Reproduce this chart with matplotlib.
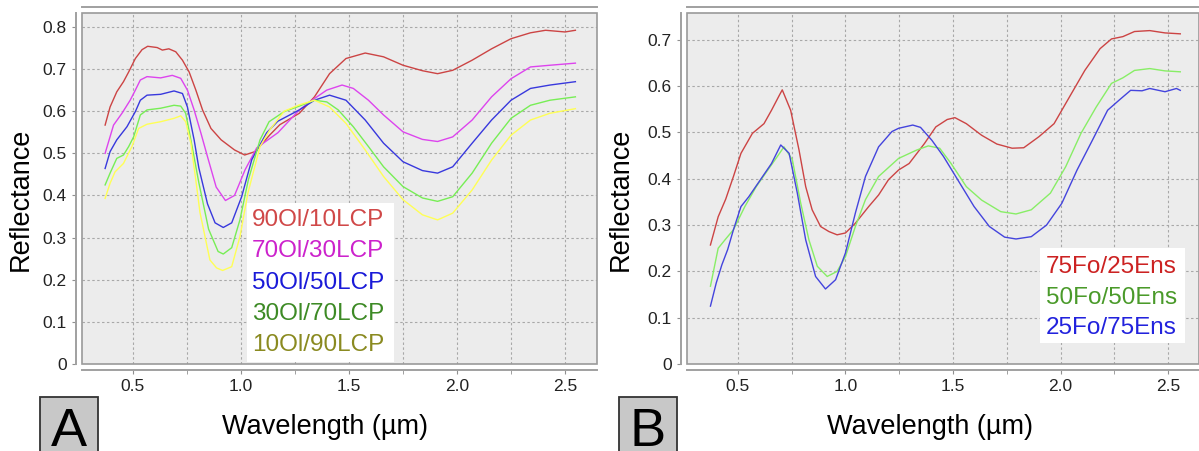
import matplotlib
matplotlib.use("Agg")
import matplotlib.pyplot as plt
from matplotlib.patches import Rectangle
from matplotlib.ticker import MultipleLocator, FuncFormatter

plt.rcParams['font.family'] = ['Liberation Sans', 'DejaVu Sans']

# Panel A: olivine / low-Ca pyroxene mixtures
a_red_x = [0.371, 0.394, 0.425, 0.456, 0.48, 0.511, 0.542, 0.568, 0.612, 0.636, 0.666, 0.698, 0.729, 0.76, 0.791,
           0.822, 0.861, 0.908, 0.97, 1.017, 1.065, 1.134, 1.18, 1.27, 1.34, 1.41, 1.486, 1.575, 1.66, 1.75, 1.84,
           1.91, 1.98, 2.07, 2.16, 2.25, 2.34, 2.41, 2.50, 2.548]
a_red_y = [0.567, 0.61, 0.646, 0.67, 0.693, 0.725, 0.746, 0.754, 0.751, 0.745, 0.748, 0.741, 0.721, 0.693, 0.65,
           0.603, 0.559, 0.532, 0.508, 0.496, 0.504, 0.544, 0.568, 0.595, 0.634, 0.689, 0.725, 0.738, 0.729, 0.709,
           0.696, 0.689, 0.697, 0.721, 0.748, 0.772, 0.786, 0.792, 0.788, 0.792]

a_mag_x = [0.371, 0.41, 0.449, 0.487, 0.511, 0.534, 0.565, 0.628, 0.682, 0.721, 0.752, 0.783, 0.815, 0.846, 0.885,
           0.928, 0.97, 1.019, 1.073, 1.171, 1.27, 1.34, 1.397, 1.468, 1.52, 1.59, 1.66, 1.75, 1.84, 1.91, 1.98,
           2.07, 2.16, 2.25, 2.34, 2.43, 2.548]
a_mag_y = [0.50, 0.567, 0.595, 0.626, 0.65, 0.674, 0.682, 0.679, 0.685, 0.678, 0.65, 0.603, 0.547, 0.49, 0.42,
           0.388, 0.40, 0.461, 0.513, 0.549, 0.603, 0.63, 0.65, 0.662, 0.654, 0.626, 0.591, 0.551, 0.533, 0.528,
           0.539, 0.579, 0.634, 0.677, 0.705, 0.709, 0.714]

a_blue_x = [0.371, 0.394, 0.425, 0.472, 0.511, 0.534, 0.565, 0.628, 0.69, 0.729, 0.752, 0.783, 0.805, 0.845, 0.88,
            0.918, 0.957, 1.003, 1.05, 1.119, 1.17, 1.27, 1.34, 1.41, 1.486, 1.575, 1.66, 1.75, 1.84, 1.91, 1.98,
            2.07, 2.16, 2.25, 2.34, 2.43, 2.548]
a_blue_y = [0.464, 0.504, 0.532, 0.563, 0.599, 0.626, 0.638, 0.64, 0.648, 0.642, 0.61, 0.532, 0.465, 0.38, 0.335,
            0.324, 0.335, 0.397, 0.485, 0.549, 0.576, 0.603, 0.626, 0.638, 0.626, 0.579, 0.524, 0.48, 0.459, 0.453,
            0.468, 0.524, 0.579, 0.626, 0.654, 0.662, 0.67]

a_green_x = [0.371, 0.394, 0.425, 0.456, 0.48, 0.503, 0.534, 0.565, 0.628, 0.69, 0.721, 0.744, 0.768, 0.805, 0.85,
             0.894, 0.918, 0.957, 0.995, 1.034, 1.088, 1.13, 1.20, 1.27, 1.34, 1.397, 1.45, 1.52, 1.59, 1.66, 1.75,
             1.84, 1.91, 1.98, 2.07, 2.16, 2.25, 2.34, 2.43, 2.548]
a_green_y = [0.425, 0.453, 0.488, 0.496, 0.516, 0.539, 0.591, 0.603, 0.607, 0.614, 0.612, 0.595, 0.532, 0.43, 0.32,
             0.267, 0.261, 0.276, 0.342, 0.437, 0.532, 0.575, 0.599, 0.612, 0.626, 0.622, 0.603, 0.563, 0.516, 0.468,
             0.421, 0.394, 0.386, 0.397, 0.453, 0.524, 0.583, 0.614, 0.626, 0.634]

a_yel_x = [0.371, 0.394, 0.417, 0.456, 0.495, 0.526, 0.565, 0.628, 0.69, 0.721, 0.744, 0.768, 0.79, 0.81, 0.856,
           0.887, 0.915, 0.957, 0.995, 1.032, 1.088, 1.134, 1.20, 1.27, 1.34, 1.41, 1.486, 1.575, 1.66, 1.75, 1.84,
           1.91, 1.98, 2.07, 2.16, 2.25, 2.34, 2.43, 2.548]
a_yel_y = [0.393, 0.429, 0.456, 0.476, 0.516, 0.559, 0.569, 0.575, 0.583, 0.589, 0.575, 0.524, 0.44, 0.36, 0.247,
           0.228, 0.222, 0.231, 0.302, 0.406, 0.516, 0.556, 0.60, 0.615, 0.626, 0.61, 0.571, 0.508, 0.445, 0.39,
           0.354, 0.342, 0.358, 0.413, 0.484, 0.543, 0.579, 0.595, 0.606]

labels_a = ["90Ol/10LCP", "70Ol/30LCP", "50Ol/50LCP", "30Ol/70LCP", "10Ol/90LCP"]
lines_a_col = ['#cc4444', '#dd44ee', '#3838dd', '#77ee55', '#ffff55']
text_a_col = ['#d04848', '#cc22cc', '#1a1ad8', '#3d8a25', '#8a8a20']

# Panel B: forsterite / enstatite mixtures
b_red_x = [0.372, 0.408, 0.443, 0.479, 0.514, 0.567, 0.621, 0.656, 0.692, 0.706, 0.745, 0.784, 0.815, 0.845, 0.884,
           0.923, 0.961, 1.0, 1.046, 1.108, 1.154, 1.2, 1.247, 1.296, 1.367, 1.42, 1.473, 1.509, 1.562, 1.633,
           1.704, 1.775, 1.829, 1.90, 1.97, 2.042, 2.113, 2.184, 2.237, 2.29, 2.344, 2.415, 2.486, 2.557]
b_red_y = [0.257, 0.318, 0.356, 0.405, 0.455, 0.498, 0.519, 0.548, 0.58, 0.592, 0.548, 0.462, 0.383, 0.333, 0.297,
           0.286, 0.279, 0.283, 0.304, 0.34, 0.365, 0.398, 0.419, 0.433, 0.476, 0.512, 0.528, 0.532, 0.519, 0.494,
           0.475, 0.466, 0.467, 0.491, 0.519, 0.577, 0.634, 0.681, 0.702, 0.707, 0.718, 0.72, 0.715, 0.713]

b_green_x = [0.372, 0.408, 0.443, 0.479, 0.532, 0.585, 0.639, 0.683, 0.714, 0.753, 0.792, 0.83, 0.869, 0.915, 0.961,
             1.0, 1.046, 1.093, 1.154, 1.247, 1.331, 1.385, 1.438, 1.491, 1.562, 1.633, 1.722, 1.793, 1.864, 1.953,
             2.024, 2.095, 2.166, 2.237, 2.29, 2.344, 2.415, 2.486, 2.557]
b_green_y = [0.168, 0.25, 0.27, 0.29, 0.34, 0.383, 0.419, 0.448, 0.469, 0.441, 0.347, 0.268, 0.211, 0.189, 0.2,
             0.232, 0.297, 0.355, 0.405, 0.444, 0.462, 0.471, 0.466, 0.433, 0.383, 0.354, 0.329, 0.324, 0.333, 0.369,
             0.426, 0.498, 0.555, 0.606, 0.618, 0.634, 0.638, 0.633, 0.631]

b_blue_x = [0.372, 0.399, 0.425, 0.452, 0.479, 0.514, 0.55, 0.603, 0.656, 0.699, 0.738, 0.776, 0.815, 0.861, 0.907,
            0.954, 1.0, 1.046, 1.093, 1.154, 1.216, 1.247, 1.313, 1.349, 1.402, 1.456, 1.527, 1.598, 1.669, 1.74,
            1.793, 1.864, 1.935, 2.006, 2.077, 2.148, 2.219, 2.273, 2.326, 2.379, 2.415, 2.486, 2.539, 2.557]
b_blue_y = [0.125, 0.175, 0.214, 0.247, 0.29, 0.34, 0.361, 0.397, 0.433, 0.473, 0.455, 0.369, 0.268, 0.189, 0.162,
            0.182, 0.24, 0.326, 0.405, 0.469, 0.502, 0.509, 0.516, 0.511, 0.483, 0.448, 0.394, 0.34, 0.297, 0.274,
            0.27, 0.275, 0.3, 0.347, 0.419, 0.483, 0.548, 0.57, 0.591, 0.59, 0.595, 0.588, 0.595, 0.591]

labels_b = ["75Fo/25Ens", "50Fo/50Ens", "25Fo/75Ens"]
lines_b_col = ['#cc4444', '#88ee66', '#4444dd']
text_b_col = ['#cc2222', '#4a9a2a', '#2222dd']

W, H = 1199, 451
fig = plt.figure(figsize=(W / 100, H / 100), dpi=100)
ax_a = fig.add_axes([82 / W, (H - 364) / H, 515 / W, 351 / H])
ax_b = fig.add_axes([687 / W, (H - 364) / H, 512 / W, 351 / H])


def style_axis(ax, xmin, xmax, ymax):
    ax.set_facecolor('#ececec')
    ax.set_xlim(xmin, xmax)
    ax.set_ylim(0, ymax)
    ax.xaxis.set_major_locator(MultipleLocator(0.5))
    ax.xaxis.set_minor_locator(MultipleLocator(0.25))
    ax.yaxis.set_major_locator(MultipleLocator(0.1))
    ax.xaxis.set_major_formatter(FuncFormatter(lambda v, p: f'{v:.1f}'))
    ax.yaxis.set_major_formatter(FuncFormatter(lambda v, p: '0' if abs(v) < 1e-9 else f'{v:.1f}'))
    ax.grid(True, which='both', color='#a8a8a8', linestyle=(0, (2.2, 2.2)), linewidth=0.8)
    ax.set_axisbelow(True)
    for s in ['left', 'bottom', 'top']:
        ax.spines[s].set_position(('outward', 4))
        ax.spines[s].set_color('#a0a0a0')
        ax.spines[s].set_linewidth(1.4)
    ax.spines['right'].set_visible(False)
    ax.add_patch(Rectangle((0, 0), 1, 1, transform=ax.transAxes, fill=False,
                           edgecolor='#9a9a9a', linewidth=1.2, clip_on=False, zorder=5))
    ax.tick_params(axis='both', which='both', direction='out', length=3, color='#909090',
                   labelsize=12.5, labelcolor='#222222', pad=4)
    ax.tick_params(axis='y', which='minor', left=False)
    ax.set_xlabel('Wavelength (µm)', fontsize=19.5)
    ax.set_ylabel('Reflectance', fontsize=19.5)


style_axis(ax_a, 0.264, 2.648, 0.833)
style_axis(ax_b, 0.263, 2.644, 0.758)

for xs, ys, c in zip([a_red_x, a_mag_x, a_blue_x, a_green_x, a_yel_x],
                     [a_red_y, a_mag_y, a_blue_y, a_green_y, a_yel_y], lines_a_col):
    ax_a.plot(xs, ys, color=c, linewidth=1.0)

for xs, ys, c in zip([b_red_x, b_green_x, b_blue_x], [b_red_y, b_green_y, b_blue_y], lines_b_col):
    ax_b.plot(xs, ys, color=c, linewidth=1.0)

ax_a.xaxis.set_label_coords(0.472, -0.143)
ax_a.yaxis.set_label_coords(-0.094, 0.47)
ax_b.xaxis.set_label_coords(0.475, -0.143)
ax_b.yaxis.set_label_coords(-0.104, 0.47)

# legend boxes
ax_a.add_patch(Rectangle((0.320, 0.006), 0.286, 0.453, transform=ax_a.transAxes,
                         facecolor='white', edgecolor='none', zorder=6))
for i, (lab, c) in enumerate(zip(labels_a, text_a_col)):
    ax_a.text(0.330, 0.410 - i * 0.089, lab, color=c, fontsize=17.5, va='center', ha='left',
              transform=ax_a.transAxes, zorder=7)

ax_b.add_patch(Rectangle((0.689, 0.060), 0.284, 0.270, transform=ax_b.transAxes,
                         facecolor='white', edgecolor='none', zorder=6))
for i, (lab, c) in enumerate(zip(labels_b, text_b_col)):
    ax_b.text(0.701, 0.276 - i * 0.087, lab, color=c, fontsize=17.5, va='center', ha='left',
              transform=ax_b.transAxes, zorder=7)

# panel letters
for x0, letter in [(40, 'A'), (619, 'B')]:
    fig.add_artist(Rectangle((x0 / W, -0.05), 58 / W, (H - 397) / H + 0.05, transform=fig.transFigure,
                             facecolor='#c8c8c8', edgecolor='#333333', linewidth=1.3))
    fig.text((x0 + 29) / W, 5 / H, letter, fontsize=39, ha='center', va='baseline', color='black')

fig.savefig('out.png', dpi=100)
